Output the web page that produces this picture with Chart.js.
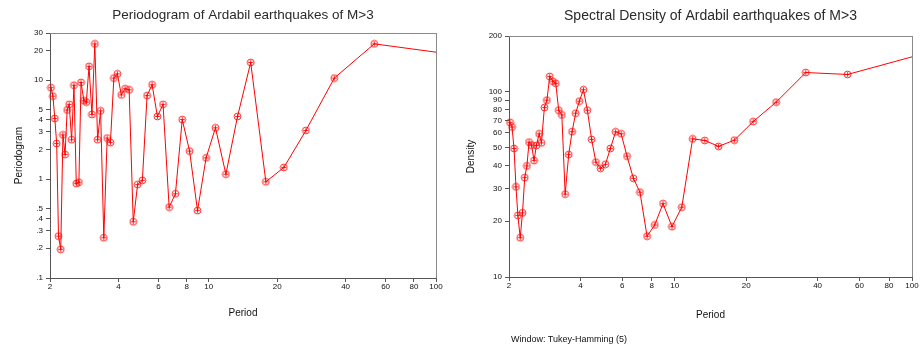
<!DOCTYPE html>
<html>
<head>
<meta charset="utf-8">
<script src="https://cdn.jsdelivr.net/npm/chart.js@4.4.1/dist/chart.umd.min.js"></script>
<style>
  html, body { margin: 0; padding: 0; background: #fff; }
  body { width: 920px; height: 347px; position: relative; overflow: hidden; font-family: 'Liberation Sans', Arial, sans-serif; }
  .box { position: absolute; top: 0; width: 460px; height: 347px; }
  #note { position: absolute; left: 511px; top: 334px; font-size: 9px; line-height: 11px; color: #111; white-space: nowrap; }
</style>
</head>
<body>
<div class="box" style="left:0"><canvas id="c1" width="460" height="347"></canvas></div>
<div class="box" style="left:460px"><canvas id="c2" width="460" height="347"></canvas></div>
<div id="note">Window: Tukey-Hamming (5)</div>
<script>
// ---- data ----
const periods = [2.02, 2.06, 2.10, 2.14, 2.18, 2.23, 2.28, 2.33, 2.38, 2.43, 2.49, 2.55, 2.61, 2.68,
  2.74, 2.82, 2.89, 2.97, 3.06, 3.15, 3.24, 3.34, 3.45, 3.57, 3.69, 3.82, 3.96, 4.12, 4.28, 4.46,
  4.65, 4.86, 5.10, 5.35, 5.63, 5.94, 6.29, 6.69, 7.13, 7.64, 8.23, 8.92, 9.73, 10.7, 11.89, 13.38,
  15.29, 17.83, 21.4, 26.75, 35.67, 53.5, 107];
const periodogram = [8.4, 6.9, 4.1, 2.29, 0.265, 0.195, 2.8, 1.77, 5.0, 5.7, 2.5, 8.9, 0.9, 0.93,
  9.5, 6.2, 6.0, 13.8, 4.5, 23.3, 2.5, 4.9, 0.255, 2.6, 2.34, 10.5, 11.6, 7.1, 8.2, 8.0,
  0.37, 0.88, 0.97, 7.0, 9.0, 4.3, 5.7, 0.52, 0.71, 4.0, 1.92, 0.48, 1.64, 3.3, 1.12, 4.3,
  15.1, 0.94, 1.31, 3.1, 10.5, 23.3, 18.8];
const density = [68.4, 64.5, 49.4, 30.7, 21.5, 16.3, 22.2, 34.4, 39.8, 53.5, 51.5, 42.5, 51.3, 59.3,
  53, 82.2, 90.1, 121, 114, 111, 79.5, 75, 28, 45.8, 60.9, 76.6, 89, 102.6, 79.5, 55.3,
  41.7, 38.6, 40.6, 49.4, 60.8, 59.3, 44.9, 34.1, 28.7, 16.6, 19.1, 24.9, 18.7, 23.8, 55.7, 54.6,
  50.7, 54.8, 69, 87.9, 127, 124, 158];
const xTicks = [2, 4, 6, 8, 10, 20, 40, 60, 80, 100];
const xTickLabels = ['2', '4', '6', '8', '10', '20', '40', '60', '80', '100'];
const yTicksLeft = [0.1, 0.2, 0.3, 0.4, 0.5, 1, 2, 3, 4, 5, 10, 20, 30];
const yTickLabelsLeft = ['.1', '.2', '.3', '.4', '.5', '1', '2', '3', '4', '5', '10', '20', '30'];
const yTicksRight = [10, 20, 30, 40, 50, 60, 70, 80, 90, 100, 200];
const yTickLabelsRight = ['10', '20', '30', '40', '50', '60', '70', '80', '90', '100', '200'];
const titleLeft = 'Periodogram of Ardabil earthquakes of M>3';
const titleRight = 'Spectral Density of Ardabil earthquakes of M>3';

// ---- marker: circle with a plus inside ----
function makeMarker() {
  const c = document.createElement('canvas');
  c.width = 9; c.height = 9;
  const g = c.getContext('2d');
  g.strokeStyle = 'rgba(255,0,0,0.85)';
  g.lineWidth = 1;
  g.beginPath(); g.arc(4.5, 4.5, 3.4, 0, Math.PI * 2); g.stroke();
  g.strokeStyle = 'rgba(255,0,0,0.9)';
  g.beginPath(); g.moveTo(4.5, 2.2); g.lineTo(4.5, 6.8); g.moveTo(2.2, 4.5); g.lineTo(6.8, 4.5); g.stroke();
  return c;
}
const marker = makeMarker();

const FONT = "'Liberation Sans', Arial, sans-serif";

const borderPlugin = {
  id: 'frame',
  afterDatasetsDraw(chart) {
    const { ctx, chartArea: a } = chart;
    ctx.save();
    ctx.strokeStyle = '#8a8a8a';
    ctx.lineWidth = 1;
    ctx.beginPath();
    ctx.moveTo(a.left, a.top + 0.5); ctx.lineTo(a.right + 0.5, a.top + 0.5);
    ctx.moveTo(a.right + 0.5, a.top); ctx.lineTo(a.right + 0.5, a.bottom);
    ctx.stroke();
    ctx.restore();
  }
};

function build(id, values, opt) {
  const pts = periods.map((p, i) => ({ x: p, y: values[i] }));
  return new Chart(document.getElementById(id), {
    type: 'line',
    data: { datasets: [{
      data: pts,
      borderColor: '#ff0000',
      borderWidth: 1,
      pointStyle: marker,
      pointRadius: 4,
      pointHoverRadius: 4,
      tension: 0,
      clip: { left: 6, top: 6, bottom: 6, right: 0 }
    }] },
    options: {
      responsive: false,
      animation: false,
      events: [],
      layout: { padding: { top: 0, bottom: 0, left: 0, right: opt.padRight } },
      plugins: {
        legend: { display: false },
        tooltip: { enabled: false },
        title: {
          display: true,
          fullSize: false,
          text: opt.title,
          color: '#2a2a2a',
          font: { family: FONT, size: opt.titleSize, weight: 'normal', lineHeight: 1.2 },
          padding: { top: opt.titleTop, bottom: opt.titleBottom }
        }
      },
      scales: {
        x: {
          type: 'logarithmic',
          min: 2, max: 100,
          afterBuildTicks: s => { s.ticks = xTicks.map(v => ({ value: v })); },
          afterFit: s => { s.height = opt.xHeight; },
          ticks: {
            autoSkip: false, maxRotation: 0, padding: 0,
            color: '#111', font: { family: FONT, size: 8 },
            callback: v => { const i = xTicks.indexOf(v); return i >= 0 ? xTickLabels[i] : ''; }
          },
          grid: { drawOnChartArea: false, drawTicks: true, tickLength: 4, color: '#555' },
          border: { display: true, color: '#555', width: 1 },
          title: { display: true, text: 'Period', color: '#111',
            font: { family: FONT, size: 10, lineHeight: 1.2 }, padding: { top: 0, bottom: opt.xTitlePad } }
        },
        y: {
          type: 'logarithmic',
          min: opt.yMin, max: opt.yMax,
          afterBuildTicks: s => { s.ticks = opt.yTicks.map(v => ({ value: v })); },
          afterFit: s => { s.width = opt.yWidth; },
          ticks: {
            autoSkip: false, padding: 3,
            color: '#111', font: { family: FONT, size: 8 },
            callback: v => { const i = opt.yTicks.indexOf(v); return i >= 0 ? opt.yLabels[i] : ''; }
          },
          grid: { drawOnChartArea: false, drawTicks: true, tickLength: 4, color: '#555' },
          border: { display: true, color: '#555', width: 1 },
          title: { display: true, text: opt.yTitle, color: '#111',
            font: { family: FONT, size: 10, lineHeight: 1.2 }, padding: { top: opt.yTitlePad, bottom: 0 } }
        }
      }
    },
    plugins: [borderPlugin]
  });
}

build('c1', periodogram, {
  title: titleLeft, titleSize: 13.5, titleTop: 7, titleBottom: 9.8,
  padRight: 24, xHeight: 69, xTitlePad: 28, yWidth: 50, yTitlePad: 13,
  yMin: 0.1, yMax: 30, yTicks: yTicksLeft, yLabels: yTickLabelsLeft, yTitle: 'Periodogram'
});
build('c2', density, {
  title: titleRight, titleSize: 14, titleTop: 7.6, titleBottom: 11.6,
  padRight: 8, xHeight: 70, xTitlePad: 26, yWidth: 49, yTitlePad: 5,
  yMin: 10, yMax: 200, yTicks: yTicksRight, yLabels: yTickLabelsRight, yTitle: 'Density'
});
</script>
</body>
</html>
